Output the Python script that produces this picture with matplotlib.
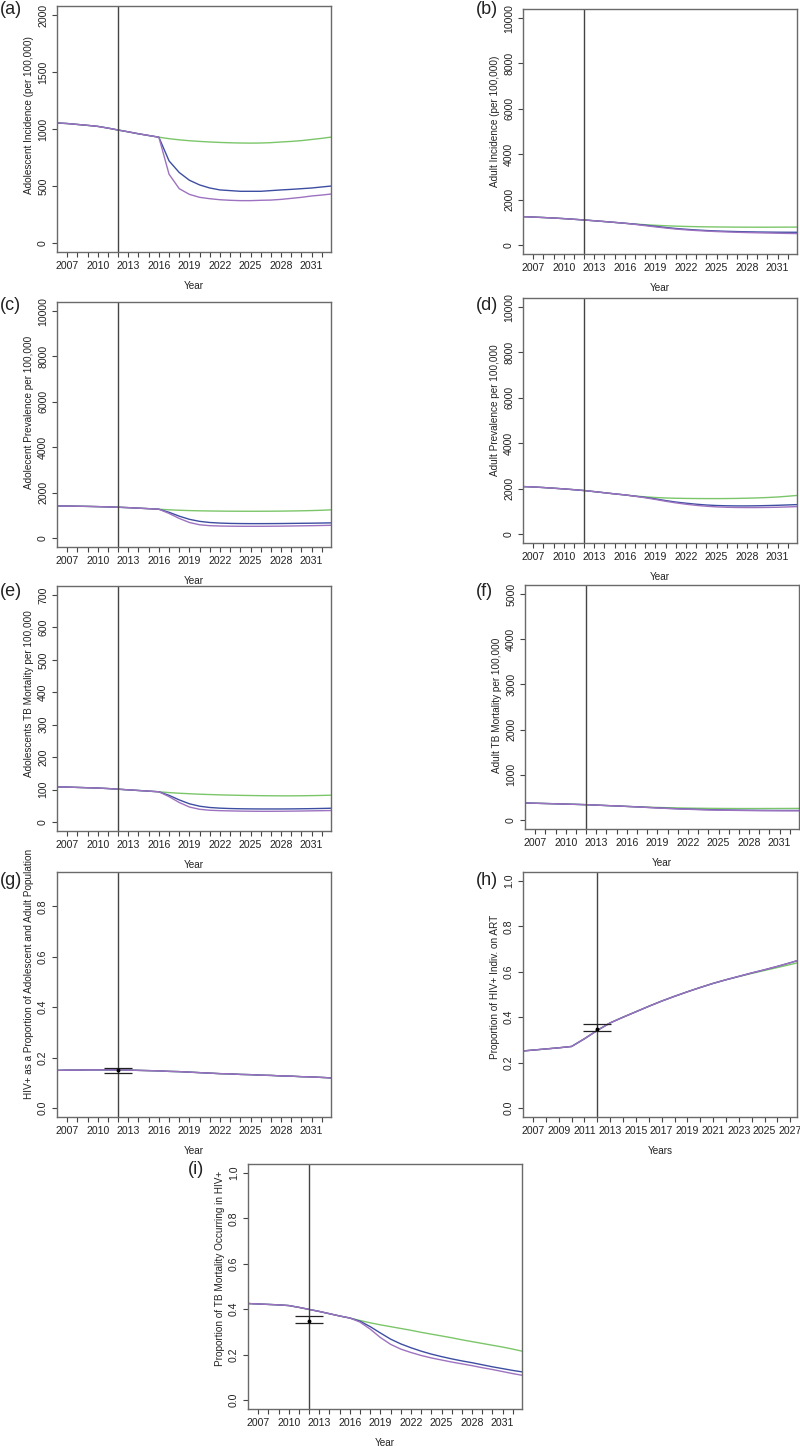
import numpy as np
import matplotlib
matplotlib.use('Agg')
import matplotlib.pyplot as plt

plt.rcParams['font.family'] = ['Liberation Sans', 'DejaVu Sans']

# ---- data ----
years = list(range(2006, 2034))
art_years = list(range(2006, 2029))

# (a) adolescent incidence
a_common = [1053, 1048, 1040, 1032, 1023, 1008, 991, 975, 958, 943, 928]
a_green = a_common + [915, 905, 897, 891, 886, 882, 879, 877, 876, 877, 880, 886, 891, 898, 908, 918, 930]
a_blue = a_common + [720, 618, 550, 509, 482, 465, 459, 453, 453, 453, 459, 465, 470, 476, 482, 491, 500]
a_purple = a_common + [603, 476, 426, 400, 388, 379, 374, 371, 371, 374, 376, 382, 391, 400, 412, 420, 430]

# (b) adult incidence
b_common = [1246, 1228, 1208, 1186, 1160, 1130, 1100, 1065, 1030, 993, 955]
b_green = b_common + [920, 890, 865, 845, 828, 815, 805, 797, 792, 788, 785, 783, 782, 782, 783, 785, 787]
b_blue = b_common + [915, 870, 820, 770, 725, 690, 660, 635, 615, 600, 588, 578, 570, 565, 560, 558, 557]
b_purple = b_common + [905, 850, 795, 745, 700, 665, 635, 610, 590, 572, 558, 545, 535, 525, 515, 507, 500]

# (c) adolescent prevalence
c_common = [1412, 1405, 1398, 1390, 1380, 1368, 1353, 1335, 1312, 1290, 1265]
c_green = c_common + [1240, 1220, 1205, 1195, 1188, 1182, 1178, 1176, 1175, 1176, 1178, 1182, 1188, 1196, 1206, 1220, 1240]
c_blue = c_common + [1130, 960, 820, 730, 680, 655, 640, 633, 630, 630, 632, 635, 640, 645, 650, 657, 665]
c_purple = c_common + [1080, 860, 680, 580, 540, 525, 517, 513, 512, 513, 516, 520, 526, 533, 540, 548, 558]

# (d) adult prevalence
d_common = [2088, 2070, 2045, 2015, 1985, 1950, 1912, 1865, 1815, 1765, 1720]
d_green = d_common + [1670, 1635, 1605, 1585, 1572, 1565, 1560, 1558, 1558, 1560, 1566, 1575, 1588, 1605, 1628, 1662, 1700]
d_blue = d_common + [1665, 1610, 1545, 1470, 1405, 1355, 1310, 1275, 1252, 1240, 1235, 1235, 1240, 1250, 1262, 1278, 1294]
d_purple = d_common + [1660, 1595, 1520, 1440, 1370, 1310, 1260, 1220, 1192, 1175, 1165, 1162, 1163, 1168, 1176, 1190, 1206]

# (e) adolescent TB mortality
e_common = [108, 107.5, 106.5, 105.5, 104.5, 103, 101, 99, 97, 95, 93]
e_green = e_common + [90.5, 88.5, 87, 85.5, 84.5, 83.5, 82.7, 82, 81.5, 81, 80.7, 80.5, 80.5, 80.8, 81.2, 81.8, 82.5]
e_blue = e_common + [82, 68, 56, 48.5, 44.5, 42.5, 41.3, 40.6, 40.2, 40, 40, 40, 40.2, 40.6, 41, 41.6, 42.3]
e_purple = e_common + [78, 60, 46, 39, 36, 34.8, 34, 33.4, 33, 32.8, 32.8, 33, 33.3, 33.7, 34.2, 34.7, 35.2]

# (f) adult TB mortality
f_common = [376, 370, 364, 358, 351, 345, 338, 329, 319, 310, 300]
f_green = f_common + [292, 284, 277, 271, 266, 262, 259, 257, 255, 254, 253, 253, 253, 254, 254, 255, 256]
f_blue = f_common + [290, 279, 268, 258, 249, 241, 234, 228, 223, 219, 216, 214, 212, 211, 210, 210, 210]
f_purple = f_common + [289, 277, 265, 254, 244, 236, 229, 223, 218, 214, 211, 208, 206, 205, 204, 203, 203]

# (g) HIV+ proportion (all scenarios overlap)
g_all = [0.149, 0.150, 0.150, 0.151, 0.151, 0.151, 0.151, 0.150, 0.149, 0.148, 0.147, 0.145, 0.144, 0.142,
         0.140, 0.138, 0.136, 0.135, 0.133, 0.132, 0.130, 0.129, 0.127, 0.126, 0.124, 0.123, 0.121, 0.119]

# (h) proportion on ART
h_common = [0.250, 0.255, 0.260, 0.265, 0.271, 0.305, 0.342, 0.375, 0.400, 0.424, 0.448, 0.471,
            0.492, 0.512, 0.531, 0.549, 0.565]
h_green = h_common + [0.579, 0.593, 0.606, 0.619, 0.632, 0.646]
h_blue = h_common + [0.580, 0.595, 0.609, 0.624, 0.640, 0.657]
h_purple = h_common + [0.580, 0.595, 0.609, 0.624, 0.640, 0.657]

# (i) proportion of TB mortality in HIV+
i_common = [0.425, 0.423, 0.421, 0.419, 0.416, 0.408, 0.399, 0.390, 0.380, 0.370, 0.361]
i_green = i_common + [0.350, 0.340, 0.331, 0.323, 0.315, 0.307, 0.298, 0.290, 0.282, 0.274, 0.265, 0.257,
                      0.249, 0.241, 0.233, 0.224, 0.214]
i_blue = i_common + [0.347, 0.323, 0.295, 0.268, 0.247, 0.230, 0.215, 0.202, 0.191, 0.181, 0.172, 0.164,
                     0.155, 0.146, 0.138, 0.130, 0.123]
i_purple = i_common + [0.343, 0.312, 0.275, 0.245, 0.224, 0.209, 0.196, 0.185, 0.176, 0.167, 0.159, 0.151,
                       0.142, 0.134, 0.125, 0.116, 0.108]

# observed data points (year, value, low, high)
g_obs = (2012, 0.15, 0.14, 0.16)
h_obs = (2012, 0.35, 0.34, 0.37)
i_obs = (2012, 0.35, 0.34, 0.37)

GREEN = '#7cc66a'
BLUE = '#3d4ea2'
PURPLE = '#9d72c0'

W, H = 800, 1446
fig = plt.figure(figsize=(W / 100, H / 100), dpi=100)


def panel(px, tag, tag_xy, x, series, ylim, yticks, ylabel, ylab_frac,
          xlim=(2006, 2032.9), xlab_years=range(2007, 2032, 3), xminor=range(2007, 2033),
          xlabel='Year', obs=None):
    left, top, w, h = px
    ax = fig.add_axes([left / W, 1 - (top + h) / H, w / W, h / H])
    for vals, col in zip(series, (GREEN, BLUE, PURPLE)):
        ax.plot(x, vals, color=col, lw=1.0)
    ax.axvline(2012, color='#444444', lw=1.0)
    if obs is not None:
        yr, v, lo, hi = obs
        ax.errorbar([yr], [v], yerr=[[v - lo], [hi - v]], fmt='o', ms=1.8, color='black',
                    ecolor='#222222', elinewidth=0.8, capsize=10, capthick=0.9)
    ax.set_xlim(*xlim)
    pad = (ylim[1] - ylim[0]) * 0.04
    ax.set_ylim(ylim[0] - pad, ylim[1] + pad)
    ax.set_yticks(yticks)
    ax.set_yticklabels([('%.1f' % t) if isinstance(t, float) else str(t) for t in yticks])
    ticks = list(xminor)
    ax.set_xticks(ticks)
    ax.set_xticklabels([str(t) if t in list(xlab_years) else '' for t in ticks])
    ax.tick_params(axis='both', direction='out', length=3.6, width=0.8, color='#444444',
                   labelsize=7.6, labelcolor='#222222')
    ax.tick_params(axis='x', pad=3.2)
    ax.tick_params(axis='y', pad=2.8)
    plt.setp(ax.get_yticklabels(), rotation=90, va='center', ha='right')
    for s in ax.spines.values():
        s.set_color('#6a6a6a')
        s.set_linewidth(1.0)
    ax.text(-28 / w, ylab_frac, ylabel, transform=ax.transAxes, rotation=90,
            ha='center', va='center', fontsize=7.2, color='#222222')
    ax.text(0.5, -34 / h, xlabel, transform=ax.transAxes, ha='center', va='center',
            fontsize=7.2, color='#222222')
    fig.text(tag_xy[0] / W, 1 - tag_xy[1] / H, tag, ha='left', va='top', fontsize=13, color='#222222')
    return ax


panel((57, 6, 274, 246), '(a)', (0, 1), years, (a_green, a_blue, a_purple),
      (0, 2000), [0, 500, 1000, 1500, 2000], 'Adolescent Incidence (per 100,000)', 0.555)
panel((523, 9, 274, 245), '(b)', (476, 1), years, (b_green, b_blue, b_purple),
      (0, 10000), [0, 2000, 4000, 6000, 8000, 10000], 'Adult Incidence (per 100,000)', 0.543)
panel((57, 302, 274, 245), '(c)', (0, 297), years, (c_green, c_blue, c_purple),
      (0, 10000), [0, 2000, 4000, 6000, 8000, 10000], 'Adolecent Prevalence per 100,000', 0.55)
panel((523, 298, 274, 245), '(d)', (476, 297), years, (d_green, d_blue, d_purple),
      (0, 10000), [0, 2000, 4000, 6000, 8000, 10000], 'Adult Prevalence per 100,000', 0.543)
panel((57, 586, 274, 245), '(e)', (0, 583), years, (e_green, e_blue, e_purple),
      (0, 700), [0, 100, 200, 300, 400, 500, 600, 700], 'Adolescents TB Mortality per 100,000', 0.559)
panel((525, 585, 274, 244), '(f)', (476, 583), years, (f_green, f_blue, f_purple),
      (0, 5000), [0, 1000, 2000, 3000, 4000, 5000], 'Adult TB Mortality per 100,000', 0.506)
panel((57, 872, 274, 245), '(g)', (0, 872), years, (g_all, g_all, g_all),
      (0, 0.9), [0.0, 0.2, 0.4, 0.6, 0.8], 'HIV+ as a Proportion of Adolescent and Adult Population', 0.584,
      obs=g_obs)
panel((523, 872, 274, 245), '(h)', (476, 872), art_years, (h_green, h_blue, h_purple),
      (0, 1.0), [0.0, 0.2, 0.4, 0.6, 0.8, 1.0], 'Proportion of HIV+ Indiv. on ART', 0.533,
      xlim=(2006.22, 2027.52), xlab_years=range(2007, 2028, 2), xminor=range(2007, 2028),
      xlabel='Years', obs=h_obs)
panel((248, 1164, 274, 245), '(i)', (188, 1161), years, (i_green, i_blue, i_purple),
      (0, 1.0), [0.0, 0.2, 0.4, 0.6, 0.8, 1.0], 'Proportion of TB Mortality Occurring in HIV+', 0.576,
      obs=i_obs)

fig.savefig('out.png', dpi=100)
